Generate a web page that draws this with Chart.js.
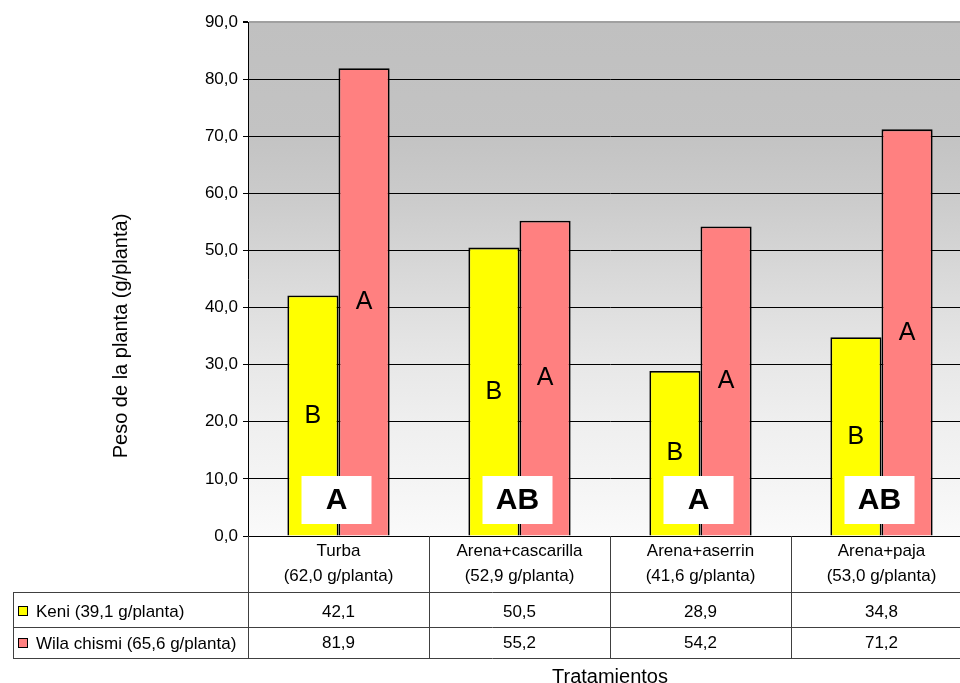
<!DOCTYPE html>
<html>
<head>
<meta charset="utf-8">
<title>Peso de la planta</title>
<script src="https://cdn.jsdelivr.net/npm/chart.js@4/dist/chart.umd.min.js"></script>
<style>
  html, body { margin: 0; padding: 0; background: #fff; overflow: hidden; }
  canvas { display: block; }
</style>
</head>
<body>
<canvas id="chart" width="975" height="683"></canvas>
<script>
// Treatments (substrates) and their overall mean weight
const categories = ['Turba', 'Arena+cascarilla', 'Arena+aserrin', 'Arena+paja'];
const categoryMeans = [62.0, 52.9, 41.6, 53.0];

// Varieties and their overall mean weight
const seriesNames = ['Keni', 'Wila chismi'];
const seriesMeans = [39.1, 65.6];

// Plant weight (g/plant) per treatment
const keniValues = [42.1, 50.5, 28.9, 34.8];
const wilaValues = [81.9, 55.2, 54.2, 71.2];

// Significance letters
const keniLetters = ['B', 'B', 'B', 'B'];
const wilaLetters = ['A', 'A', 'A', 'A'];
const treatmentLetters = ['A', 'AB', 'A', 'AB'];

const seriesColors = ['#FFFF00', '#FF8080'];
const FONT = "'Liberation Sans', Arial, sans-serif";
const fmt = v => v.toFixed(1).replace('.', ',');

const decorations = {
  id: 'decorations',
  beforeDraw(chart) {
    const { ctx, chartArea: a } = chart;
    const g = ctx.createLinearGradient(0, a.top, 0, a.bottom);
    g.addColorStop(0, '#c0c0c0');
    g.addColorStop(0.22, '#c3c3c3');
    g.addColorStop(0.33, '#cacaca');
    g.addColorStop(0.44, '#d4d4d4');
    g.addColorStop(0.56, '#dfdfdf');
    g.addColorStop(0.67, '#e8e8e8');
    g.addColorStop(0.78, '#efefef');
    g.addColorStop(0.89, '#f4f4f4');
    g.addColorStop(1, '#fafafa');
    ctx.save();
    ctx.fillStyle = g;
    ctx.fillRect(a.left, a.top, a.right - a.left, a.bottom - a.top);
    ctx.restore();
  },
  afterDatasetsDraw(chart) {
    const { ctx, chartArea: a } = chart;
    const y = chart.scales.y;
    const x = chart.scales.x;
    ctx.save();
    ctx.fillStyle = '#000';
    ctx.textAlign = 'center';
    ctx.textBaseline = 'middle';
    ctx.font = '25px ' + FONT;
    const letterSets = [keniLetters, wilaLetters];
    const valueSets = [keniValues, wilaValues];
    [0, 1].forEach(d => {
      chart.getDatasetMeta(d).data.forEach((bar, i) => {
        ctx.fillText(letterSets[d][i], bar.x, y.getPixelForValue(valueSets[d][i] / 2));
      });
    });
    // treatment letters in white boxes
    categories.forEach((c, i) => {
      const cx = x.getPixelForValue(i);
      const w = 70, h = 48;
      const top = a.bottom - 60;
      ctx.fillStyle = '#ffffff';
      ctx.fillRect(cx - w / 2 - 2, top, w, h);
      ctx.fillStyle = '#000';
      ctx.font = 'bold 30px ' + FONT;
      ctx.fillText(treatmentLetters[i], cx - 2, top + h / 2 + 1);
    });
    ctx.restore();
  },
  afterDraw(chart) {
    const { ctx, chartArea: a } = chart;
    const x = chart.scales.x;
    const catW = (a.right - a.left) / categories.length;
    const rows = [a.bottom, a.bottom + 56, a.bottom + 91, a.bottom + 122];
    const tableLeft = 13;
    ctx.save();
    ctx.strokeStyle = '#404040';
    ctx.lineWidth = 1;
    ctx.beginPath();
    // horizontal rules
    [rows[1], rows[2], rows[3]].forEach(ry => {
      ctx.moveTo(tableLeft, Math.round(ry) + 0.5);
      ctx.lineTo(a.right, Math.round(ry) + 0.5);
    });
    // legend column left edge
    ctx.moveTo(tableLeft + 0.5, rows[1]);
    ctx.lineTo(tableLeft + 0.5, rows[3]);
    // column separators
    for (let i = 0; i <= categories.length; i++) {
      const vx = Math.round(a.left + i * catW) + 0.5;
      ctx.moveTo(vx, a.bottom);
      ctx.lineTo(vx, rows[3]);
    }
    ctx.stroke();

    ctx.fillStyle = '#000';
    ctx.font = '17px ' + FONT;
    ctx.textAlign = 'center';
    ctx.textBaseline = 'middle';
    categories.forEach((c, i) => {
      const cx = x.getPixelForValue(i);
      ctx.fillText(c, cx, a.bottom + 15);
      ctx.fillText('(' + fmt(categoryMeans[i]) + ' g/planta)', cx, a.bottom + 40);
      ctx.fillText(fmt(keniValues[i]), cx, rows[1] + 20);
      ctx.fillText(fmt(wilaValues[i]), cx, rows[2] + 16);
    });

    // legend keys
    const keyY = [rows[1] + 20, rows[2] + 17];
    seriesNames.forEach((n, d) => {
      ctx.fillStyle = seriesColors[d];
      ctx.fillRect(18.5, keyY[d] - 5.5, 9, 9);
      ctx.strokeStyle = '#000';
      ctx.strokeRect(18.5, keyY[d] - 5.5, 9, 9);
      ctx.fillStyle = '#000';
      ctx.textAlign = 'left';
      ctx.fillText(n + ' (' + fmt(seriesMeans[d]) + ' g/planta)', 36, keyY[d]);
    });

    // axis titles
    ctx.font = '20px ' + FONT;
    ctx.textAlign = 'center';
    ctx.fillText('Tratamientos', (a.left + a.right) / 2, 677);
    ctx.translate(121, 336);
    ctx.rotate(-Math.PI / 2);
    ctx.fillText('Peso de la planta (g/planta)', 0, 0);
    ctx.restore();
  }
};

new Chart(document.getElementById('chart'), {
  type: 'bar',
  data: {
    labels: categories,
    datasets: [
      { label: seriesNames[0], data: keniValues, backgroundColor: seriesColors[0] },
      { label: seriesNames[1], data: wilaValues, backgroundColor: seriesColors[1] }
    ]
  },
  options: {
    responsive: false,
    animation: false,
    events: [],
    layout: { padding: { left: 0, top: 22, right: 3, bottom: 147 } },
    datasets: {
      bar: {
        borderColor: '#000',
        borderWidth: 1.8,
        categoryPercentage: 0.565,
        barPercentage: 1
      }
    },
    plugins: { legend: { display: false }, tooltip: { enabled: false } },
    scales: {
      x: { display: false },
      y: {
        min: 0,
        max: 90,
        afterFit(scale) { scale.width = 248; },
        ticks: {
          stepSize: 10,
          padding: 5,
          color: '#000',
          font: { family: FONT, size: 17 },
          callback: v => fmt(v)
        },
        grid: {
          color: c => (c.tick && c.tick.value === 90 ? '#a0a0a0' : '#000'),
          lineWidth: c => (c.tick && c.tick.value === 90 ? 2 : 1),
          drawTicks: true,
          tickLength: 5,
          tickColor: '#000'
        },
        border: { display: true, color: '#000', width: 1 }
      }
    }
  },
  plugins: [decorations]
});
</script>
</body>
</html>
